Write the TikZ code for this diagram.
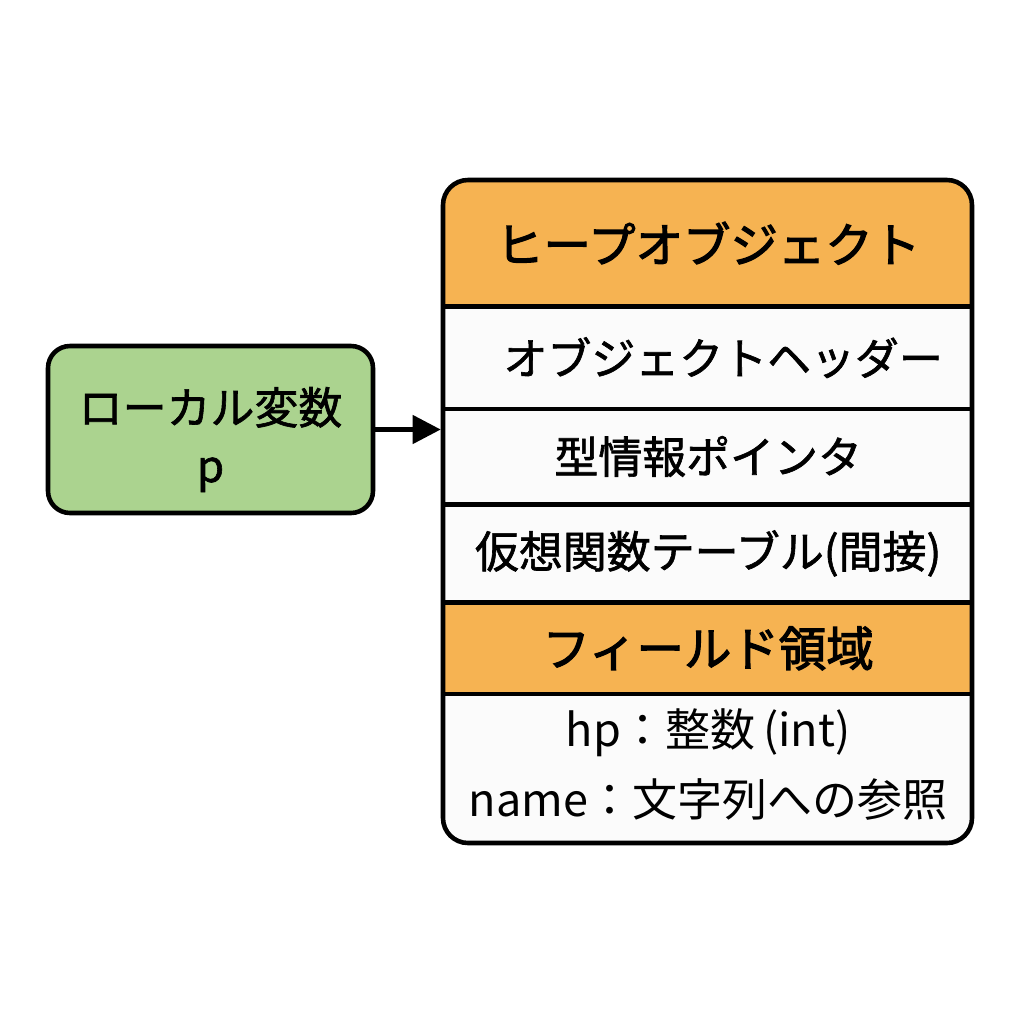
\documentclass[tikz,border=0pt]{standalone}
\usepackage{fontspec}
\setmainfont{Noto Sans CJK JP}
\newfontfamily\medfont[FakeBold=1.4]{Noto Sans CJK JP}
\newfontfamily\hdfont[FakeBold=2.4]{Noto Sans CJK JP}
\usetikzlibrary{arrows.meta}
\definecolor{hdorange}{HTML}{F6B352}
\definecolor{lvgreen}{HTML}{ABD38F}
\definecolor{rowwhite}{HTML}{FBFBFB}
\begin{document}
\begin{tikzpicture}[
    box/.style={draw,line width=1.3pt,rounded corners=0.22cm},
    row/.style={anchor=north west,minimum width=5.29cm,inner sep=0pt,fill=rowwhite,align=center,font=\medfont\fontsize{12.5}{20}\selectfont},
    hdrow/.style={row,fill=hdorange,font=\hdfont\fontsize{13.5}{16}\selectfont}
]
    \useasboundingbox (0,0) rectangle (10.24,-10.24);
    % local variable
    \node[box,fill=lvgreen,minimum width=3.25cm,minimum height=1.67cm,align=center,text height=1.15cm,font=\medfont\fontsize{12.5}{16.5}\selectfont] (lv) at (2.105,-4.295) {ローカル変数\\p};
    % heap object rows
    \begin{scope}
        \clip[rounded corners=0.25cm] (4.43,-1.80) rectangle (9.72,-8.43);
        \node[hdrow,minimum height=1.25cm] (hd) at (4.43,-1.80) {ヒープオブジェクト};
        \node[row,minimum height=1.01cm] (oh) at (hd.south west) {\hspace{0.3cm}オブジェクトヘッダー};
        \node[row,minimum height=0.94cm] (ti) at (oh.south west) {型情報ポインタ};
        \node[row,minimum height=0.97cm] (vt) at (ti.south west) {仮想関数テーブル(間接)};
        \node[hdrow,minimum height=0.90cm] (fh) at (vt.south west) {フィールド領域};
        \node[row,minimum height=1.56cm,text depth=0.2cm,font=\fontsize{12.8}{20}\selectfont] (fl) at (fh.south west) {hp：整数\,(int)\\name：文字列への参照};
    \end{scope}
    \foreach \r in {hd,oh,ti,vt,fh}
        \draw[line width=1.3pt] (\r.south west) -- (\r.south east);
    \node[box,minimum width=5.29cm,minimum height=6.63cm,rounded corners=0.25cm] (obj) at (7.075,-5.115) {};
    \draw[line width=1.3pt,-{Triangle[length=0.28cm,width=0.28cm]}] (lv.east) -- (lv.east -| obj.west);
\end{tikzpicture}
\end{document}
